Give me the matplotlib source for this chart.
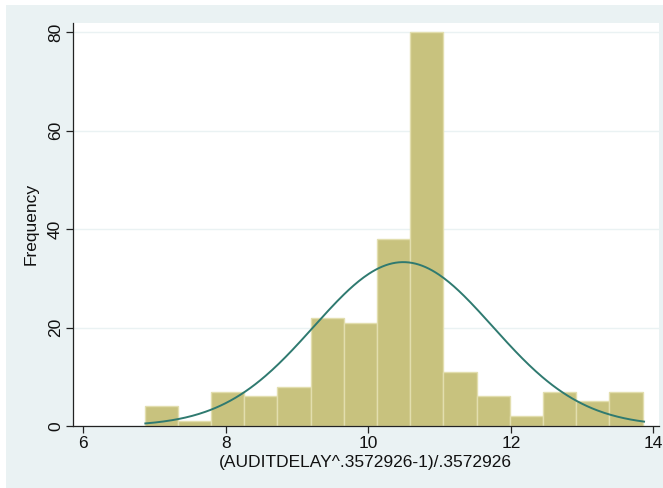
import numpy as np
import matplotlib
import matplotlib.pyplot as plt
from matplotlib.patches import Rectangle

matplotlib.use('Agg')
plt.rcParams['font.family'] = ['Liberation Sans', 'DejaVu Sans']

# histogram: 15 bins starting at BIN_START, each BIN_WIDTH wide
BIN_START = 6.86
BIN_WIDTH = 0.466
counts = [4, 1, 7, 6, 8, 22, 21, 38, 80, 11, 6, 2, 7, 5, 7]

# fitted normal curve (mean / sd estimated from the peak position and height)
MEAN = 10.49
SD = 1.256
X_MIN = 6.87
X_MAX = 13.87

x_ticks = [6, 8, 10, 12, 14]
y_ticks = [0, 20, 40, 60, 80]

BG = '#EAF2F3'
BAR = '#C8C27E'
BAR_EDGE = '#E2DEAE'
LINE = '#2F7A70'

fig = plt.figure(figsize=(6.63, 4.88), dpi=100)
fig.patch.set_facecolor('white')
fig.patches.append(Rectangle((6/663, 0), 1 - 6/663, 1 - 5/488,
                             transform=fig.transFigure, facecolor=BG,
                             edgecolor='none', zorder=-10))

ax = fig.add_axes([72.7/663, 1 - 426/488, (659 - 72.7)/663, (426 - 22.5)/488])
ax.set_facecolor('white')

edges = BIN_START + BIN_WIDTH*np.arange(len(counts))
ax.bar(edges, counts, width=BIN_WIDTH, align='edge', color=BAR,
       edgecolor=BAR_EDGE, linewidth=1.0, zorder=2)

n = sum(counts)
xs = np.linspace(X_MIN, X_MAX, 300)
ys = n*BIN_WIDTH*np.exp(-0.5*((xs - MEAN)/SD)**2)/(SD*np.sqrt(2*np.pi))
ax.plot(xs, ys, color=LINE, linewidth=1.4, zorder=3)

ax.set_xlim(5.85, 14.08)
ax.set_ylim(0, 82.0)
ax.set_xticks(x_ticks)
ax.set_yticks(y_ticks)
ax.set_yticklabels([str(v) for v in y_ticks], rotation=90, va='center')
ax.grid(axis='y', color=BG, linewidth=1.0, zorder=0)
ax.set_axisbelow(True)

for s in ['top', 'right']:
    ax.spines[s].set_visible(False)
for s in ['left', 'bottom']:
    ax.spines[s].set_color('#222222')
    ax.spines[s].set_linewidth(0.9)

ax.tick_params(axis='both', direction='out', length=5, width=0.9,
               color='#222222', labelsize=12.5, labelcolor='#111111', pad=2)

ax.set_xlabel('(AUDITDELAY^.3572926-1)/.3572926', fontsize=12.5,
              color='#111111', labelpad=3)
ax.set_ylabel('Frequency', fontsize=12.5, color='#111111', labelpad=7)

fig.savefig('out.png', dpi=100, facecolor=fig.get_facecolor())
